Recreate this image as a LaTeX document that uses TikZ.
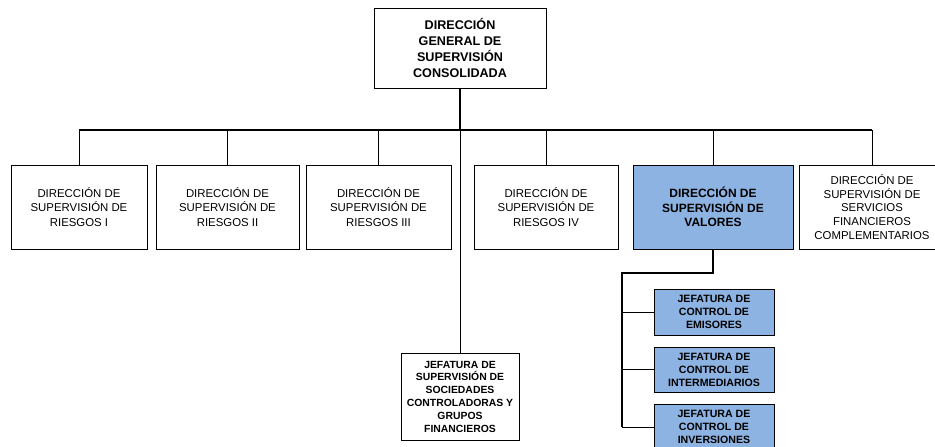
\documentclass[tikz,border=0pt]{standalone}
\usepackage{fontspec}
\setmainfont{Liberation Sans}
\definecolor{boxblue}{RGB}{141,179,226}
\begin{document}
\begin{tikzpicture}[x=1pt,y=-1pt,
  box/.style={draw=black,line width=1pt,rectangle,align=center,inner sep=0pt,fill=white},
  rowbox/.style={box,minimum height=84pt,font=\fontsize{11.4}{14.3}\selectfont},
  bluebox/.style={box,fill=boxblue},
  subbox/.style={bluebox,minimum width=120pt,font=\fontsize{10.6}{13}\selectfont\bfseries},
  conn/.style={draw=black,line width=1pt},
  mainconn/.style={draw=black,line width=1.4pt}]
\useasboundingbox (0,0) rectangle (935,447);
\node[box,minimum width=172pt,minimum height=80pt,font=\fontsize{12.6}{16}\selectfont\bfseries] (top) at (460,48)
  {DIRECCIÓN\\GENERAL DE\\SUPERVISIÓN\\CONSOLIDADA};
\node[rowbox,minimum width=136pt] (b1) at (79,207) {DIRECCIÓN DE\\SUPERVISIÓN DE\\RIESGOS I};
\node[rowbox,minimum width=143pt] (b2) at (227.5,207) {DIRECCIÓN DE\\SUPERVISIÓN DE\\RIESGOS II};
\node[rowbox,minimum width=145pt] (b3) at (378.5,207) {DIRECCIÓN DE\\SUPERVISIÓN DE\\RIESGOS III};
\node[rowbox,minimum width=144pt] (b4) at (546,207) {DIRECCIÓN DE\\SUPERVISIÓN DE\\RIESGOS IV};
\node[rowbox,bluebox,minimum width=160pt,font=\fontsize{12}{14.3}\selectfont\bfseries] (b5) at (713,207) {DIRECCIÓN DE\\SUPERVISIÓN DE\\VALORES};
\node[rowbox,minimum width=146pt,font=\fontsize{11.4}{13.7}\selectfont] (b6) at (872,207) {DIRECCIÓN DE\\SUPERVISIÓN DE\\SERVICIOS\\FINANCIEROS\\COMPLEMENTARIOS};
\node[box,minimum width=118pt,minimum height=87pt,font=\fontsize{10.4}{12.8}\selectfont\bfseries] (soc) at (460,396.5)
  {JEFATURA DE\\SUPERVISIÓN DE\\SOCIEDADES\\CONTROLADORAS Y\\GRUPOS\\FINANCIEROS};
\node[subbox,minimum height=46pt] (s1) at (714,312) {JEFATURA DE\\CONTROL DE\\EMISORES};
\node[subbox,minimum height=45pt] (s2) at (714,369.5) {JEFATURA DE\\CONTROL DE\\INTERMEDIARIOS};
\node[subbox,minimum height=46pt] (s3) at (714,427) {JEFATURA DE\\CONTROL DE\\INVERSIONES};
% bus
\coordinate (busL) at (79,130);
\coordinate (busR) at (872,130);
\path[mainconn] (top.south) -- (top.south |- busL);
\path[mainconn] (busL) -- (busR);
\path[conn] (top.south |- busL) -- (soc.north);
\foreach \b in {b1,b2,b3,b4,b5,b6} {\path[conn] (\b.north) -- (\b.north |- busL);}
% valores branch
\coordinate (sp) at (622,273);
\path[mainconn] (b5.south) |- (sp) -- (sp |- s3.west);
\foreach \s in {s1,s2,s3} {\path[conn] (sp |- \s.west) -- (\s.west);}
\end{tikzpicture}
\end{document}
